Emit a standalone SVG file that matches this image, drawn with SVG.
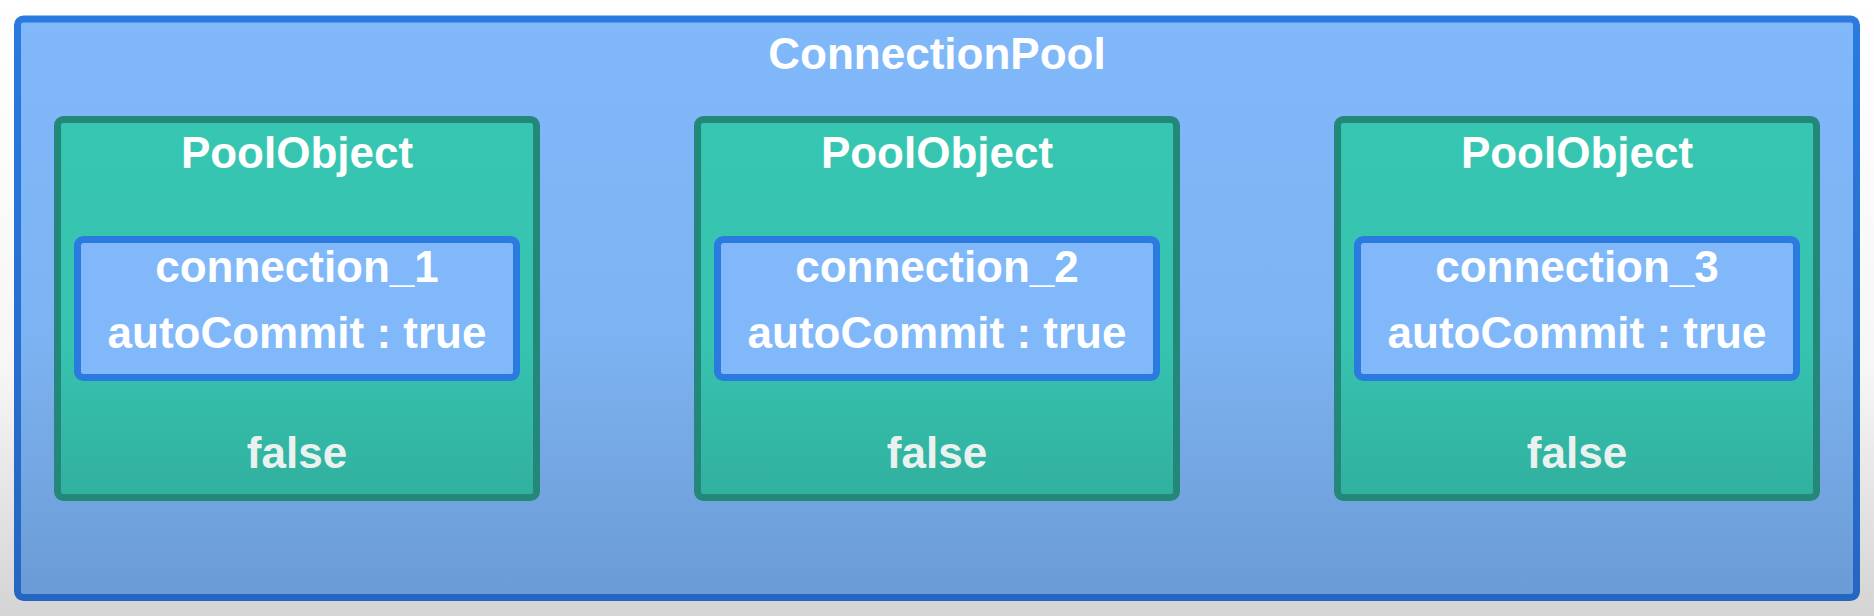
<svg xmlns="http://www.w3.org/2000/svg" width="1874" height="616" viewBox="0 0 1874 616">
<defs>
<linearGradient id="bg" x1="0" y1="0" x2="0" y2="1">
<stop offset="0" stop-color="#ffffff"/>
<stop offset="0.6" stop-color="#f6f6f6"/>
<stop offset="1" stop-color="#d4d4d4"/>
</linearGradient>
<linearGradient id="poolFill" x1="0" y1="0" x2="0" y2="1">
<stop offset="0" stop-color="#80b8fa"/>
<stop offset="0.55" stop-color="#7db3f2"/>
<stop offset="1" stop-color="#6b9bd4"/>
</linearGradient>
<linearGradient id="poolStroke" x1="0" y1="0" x2="0" y2="1">
<stop offset="0" stop-color="#2a7ae0"/>
<stop offset="1" stop-color="#2566c2"/>
</linearGradient>
<linearGradient id="objFill" x1="0" y1="0" x2="0" y2="1">
<stop offset="0" stop-color="#37c6b2"/>
<stop offset="0.6" stop-color="#36c3af"/>
<stop offset="1" stop-color="#31b09e"/>
</linearGradient>
</defs>
<style>
.obj{fill:url(#objFill);stroke:#23877a;stroke-width:7}
.conn{fill:#80b8fa;stroke:#2a7ae0;stroke-width:7}
.t{font-family:"Liberation Sans",Arial,sans-serif;font-weight:bold;font-size:44px;fill:#ffffff;text-anchor:middle}
.f{fill:#eaf2f0}
</style>
<rect x="0" y="0" width="1874" height="616" fill="url(#bg)"/>
<g id="connectionPool">
<rect x="17.5" y="19" width="1839" height="578.5" rx="6" fill="url(#poolFill)" stroke="url(#poolStroke)" stroke-width="7"/>
<text class="t" x="937" y="69">ConnectionPool</text>
</g>
<g id="poolObject1">
<rect class="obj" x="57.5" y="119.5" width="479" height="378" rx="6"/>
<text class="t" x="297" y="168">PoolObject</text>
<g id="connection1">
<rect class="conn" x="77.5" y="239.5" width="439" height="138" rx="6"/>
<text class="t" x="297" y="282">connection_1</text>
<text class="t" x="297" y="348">autoCommit : true</text>
</g>
<text class="t f" x="297" y="468">false</text>
</g>
<g id="poolObject2">
<rect class="obj" x="697.5" y="119.5" width="479" height="378" rx="6"/>
<text class="t" x="937" y="168">PoolObject</text>
<g id="connection2">
<rect class="conn" x="717.5" y="239.5" width="439" height="138" rx="6"/>
<text class="t" x="937" y="282">connection_2</text>
<text class="t" x="937" y="348">autoCommit : true</text>
</g>
<text class="t f" x="937" y="468">false</text>
</g>
<g id="poolObject3">
<rect class="obj" x="1337.5" y="119.5" width="479" height="378" rx="6"/>
<text class="t" x="1577" y="168">PoolObject</text>
<g id="connection3">
<rect class="conn" x="1357.5" y="239.5" width="439" height="138" rx="6"/>
<text class="t" x="1577" y="282">connection_3</text>
<text class="t" x="1577" y="348">autoCommit : true</text>
</g>
<text class="t f" x="1577" y="468">false</text>
</g>
<g id="connectors"></g>
</svg>
